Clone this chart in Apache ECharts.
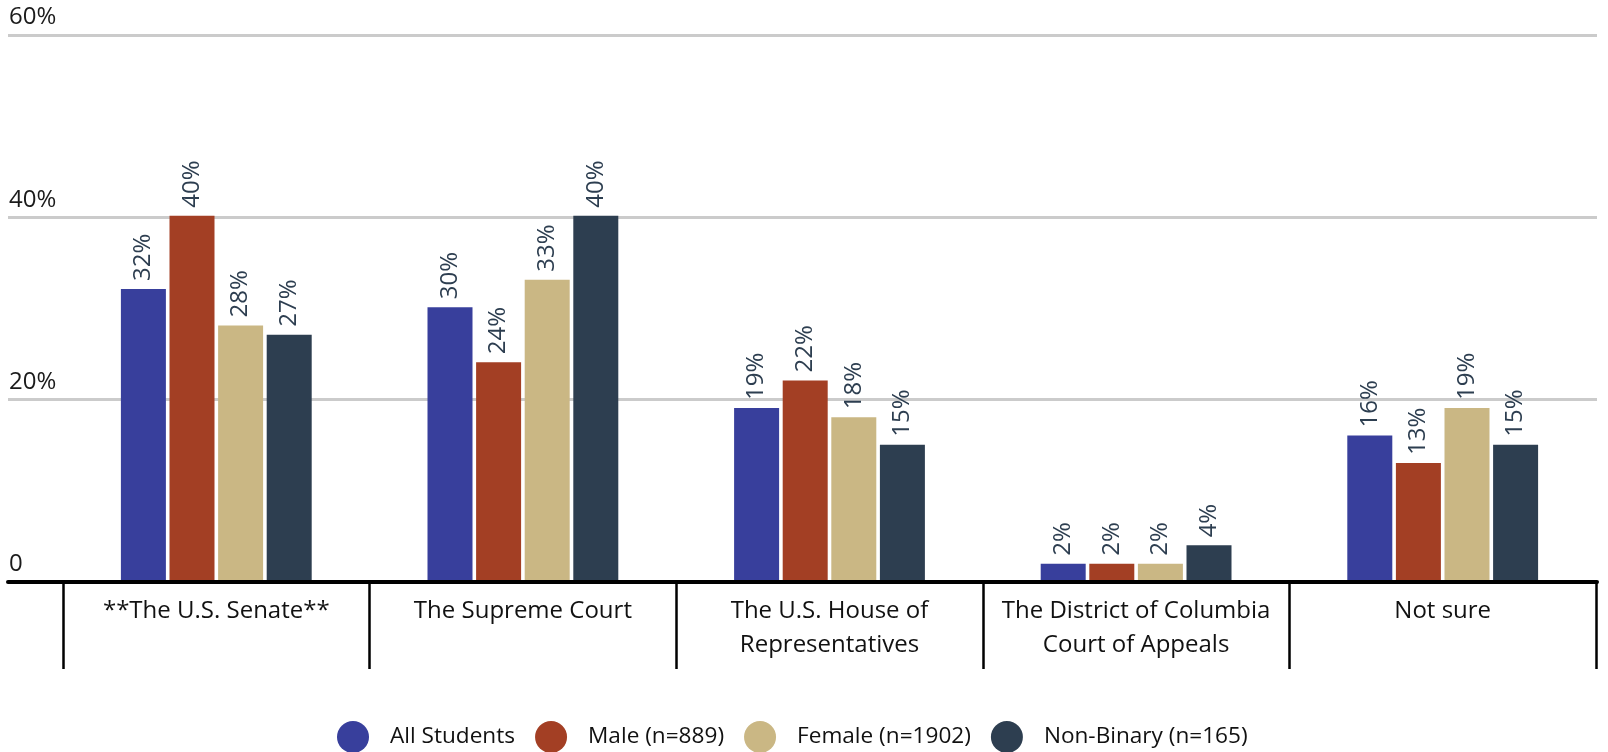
<!DOCTYPE html>
<html>
<head>
<meta charset="utf-8">
<script src="https://cdn.jsdelivr.net/npm/echarts@6/dist/echarts.min.js"></script>
<style>
  html, body { margin: 0; padding: 0; background: #fff; }
  #barChart { width: 1608px; height: 752px; }
</style>
</head>
<body>
<div id="barChart"></div>
<script>
const categories = [
  '**The U.S. Senate**',
  'The Supreme Court',
  'The U.S. House of\nRepresentatives',
  'The District of Columbia\nCourt of Appeals',
  'Not sure'
];
const seriesNames = ['All Students', 'Male (n=889)', 'Female (n=1902)', 'Non-Binary (n=165)'];
const allStudents = [32, 30, 19, 2, 16];
const male = [40, 24, 22, 2, 13];
const female = [28, 33, 18, 2, 19];
const nonBinary = [27, 40, 15, 4, 15];
const yTicks = [0, 20, 40, 60];

const colors = ['#383f9c', '#a33f24', '#cab784', '#2d3e50'];
const font = '"Open Sans", "Noto Sans", sans-serif';

const chart = echarts.init(document.getElementById('barChart'));

function barSeries(name, data) {
  return {
    name: name,
    type: 'bar',
    xAxisIndex: 1,
    yAxisIndex: 1,
    barWidth: 45,
    barGap: '8%',
    data: data,
    label: {
      show: true,
      position: 'top',
      rotate: 90,
      align: 'left',
      verticalAlign: 'middle',
      distance: 8,
      formatter: '{c}%',
      fontFamily: font,
      fontSize: 24,
      color: '#2d3e50'
    }
  };
}

const option = {
  animation: false,
  color: colors,
  textStyle: { fontFamily: font },
  legend: {
    left: 337,
    top: 721,
    padding: 0,
    icon: 'circle',
    itemWidth: 32,
    itemHeight: 32,
    itemGap: 20,
    data: seriesNames,
    textStyle: {
      fontFamily: font,
      fontSize: 22.6,
      color: '#111',
      padding: [0, 0, 0, 16]
    }
  },
  grid: [
    { left: 8, right: 11, top: 32.5, bottom: 170 },
    { left: 63, right: 12, top: 32.5, bottom: 170 }
  ],
  xAxis: [
    {
      gridIndex: 0,
      type: 'category',
      data: categories,
      z: 10,
      axisLine: { show: true, lineStyle: { color: '#000', width: 4 } },
      axisTick: { show: false },
      axisLabel: { show: false }
    },
    {
      gridIndex: 1,
      type: 'category',
      data: categories,
      axisLine: { show: false },
      axisTick: { show: true, length: 87, lineStyle: { color: '#000', width: 2.5 } },
      axisLabel: {
        interval: 0,
        margin: 12.5,
        fontFamily: font,
        fontSize: 24,
        lineHeight: 34,
        color: '#111'
      }
    }
  ],
  yAxis: [
    {
      gridIndex: 0,
      type: 'value',
      min: yTicks[0],
      max: yTicks[yTicks.length - 1],
      interval: 20,
      axisLine: { show: false },
      axisTick: { show: false },
      splitLine: { show: true, lineStyle: { color: '#cbcbcb', width: 3 } },
      axisLabel: {
        inside: true,
        margin: 1,
        verticalAlign: 'bottom',
        lineHeight: 35,
        fontFamily: font,
        fontSize: 24,
        color: '#1b1b1b',
        formatter: (v) => (v === 0 ? '0' : v + '%')
      }
    },
    {
      gridIndex: 1,
      type: 'value',
      min: yTicks[0],
      max: yTicks[yTicks.length - 1],
      interval: 20,
      show: false
    }
  ],
  series: [
    barSeries(seriesNames[0], allStudents),
    barSeries(seriesNames[1], male),
    barSeries(seriesNames[2], female),
    barSeries(seriesNames[3], nonBinary)
  ]
};

chart.setOption(option);
</script>
</body>
</html>
